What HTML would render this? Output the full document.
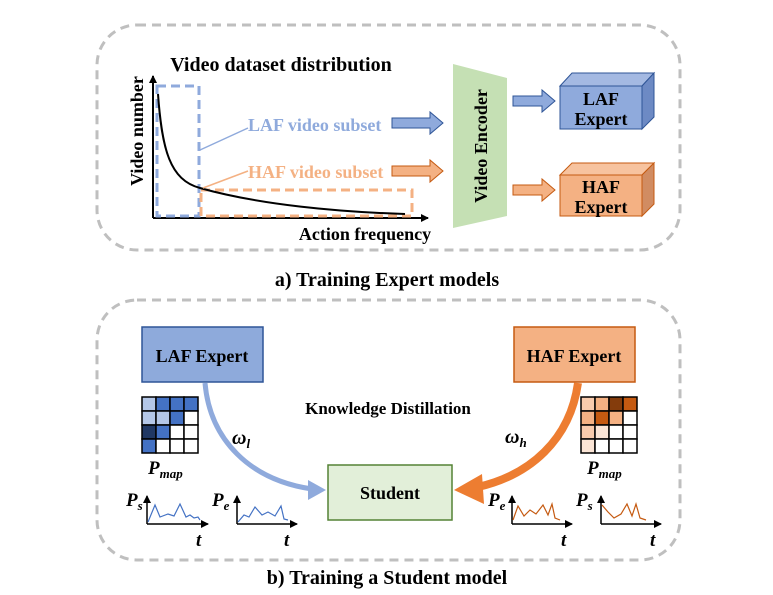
<!DOCTYPE html>
<html><head><meta charset="utf-8"><style>
body{margin:0;background:#fff}
svg{display:block;font-family:"Liberation Serif",serif;font-weight:bold}
</style></head><body>
<svg width="773" height="595" viewBox="0 0 773 595" xmlns="http://www.w3.org/2000/svg">
<defs>
<marker id="ah" markerWidth="8" markerHeight="8" refX="7" refY="4" orient="auto" markerUnits="userSpaceOnUse"><path d="M0,0 L8,4 L0,8 z" fill="#000"/></marker>
</defs>
<rect x="97" y="25" width="583" height="225" rx="40" fill="none" stroke="#bfbfbf" stroke-width="3" stroke-dasharray="9,6"/>
<rect x="97" y="300" width="583" height="260" rx="40" fill="none" stroke="#bfbfbf" stroke-width="3" stroke-dasharray="9,6"/>
<text x="387" y="286" font-size="20" text-anchor="middle">a) Training Expert models</text>
<text x="387" y="584" font-size="20" text-anchor="middle">b) Training a Student model</text>

<text x="281" y="71" font-size="20" text-anchor="middle">Video dataset distribution</text>
<text transform="translate(143,131) rotate(-90)" font-size="18" text-anchor="middle">Video number</text>
<text x="365" y="240" font-size="18" text-anchor="middle">Action frequency</text>
<line x1="153" y1="218" x2="153" y2="76" stroke="#000" stroke-width="2" marker-end="url(#ah)"/>
<line x1="153" y1="218" x2="428" y2="218" stroke="#000" stroke-width="2" marker-end="url(#ah)"/>
<rect x="157" y="86" width="42" height="130" fill="none" stroke="#8faadc" stroke-width="3" stroke-dasharray="9,5"/>
<rect x="201" y="190" width="211" height="26" fill="none" stroke="#f4b183" stroke-width="3" stroke-dasharray="9,5"/>
<path d="M158,94 C162,150 170,180 200,188 C260,205 340,212 405,214" fill="none" stroke="#000" stroke-width="2"/>
<line x1="200" y1="150" x2="248" y2="128" stroke="#8faadc" stroke-width="1.5"/>
<line x1="203" y1="188" x2="248" y2="171" stroke="#f4b183" stroke-width="1.5"/>
<text x="248" y="131" font-size="18" fill="#8faadc">LAF video subset</text>
<text x="248" y="178" font-size="18" fill="#f4b183">HAF video subset</text>
<path d="M392,118 h38 v-6 l13,11 l-13,11 v-6 h-38 z" fill="#8faadc" stroke="#2f5597" stroke-width="1"/>
<path d="M392,166 h38 v-6 l13,11 l-13,11 v-6 h-38 z" fill="#f4b183" stroke="#c55a11" stroke-width="1"/>

<polygon points="453,64 507,78 507,216 453,228" fill="#c5e0b4"/>
<text transform="translate(487,146) rotate(-90)" font-size="18" text-anchor="middle">Video Encoder</text>
<path d="M513,96 h29 v-6 l13,11 l-13,11 v-6 h-29 z" fill="#8faadc" stroke="#2f5597" stroke-width="1"/>
<path d="M513,185 h29 v-6 l13,11 l-13,11 v-6 h-29 z" fill="#f4b183" stroke="#c55a11" stroke-width="1"/>

<polygon points="560,86 572,73 654,73 642,86" fill="#a4b9e2" stroke="#2f5597"/>
<polygon points="642,86 654,73 654,117 642,129" fill="#6d8ac4" stroke="#2f5597"/>
<rect x="560" y="86" width="82" height="43" fill="#8faadc" stroke="#2f5597"/>
<text x="601" y="105" font-size="18" text-anchor="middle">LAF</text>
<text x="601" y="125" font-size="18" text-anchor="middle">Expert</text>
<polygon points="560,175 572,163 654,163 642,175" fill="#f7c39f" stroke="#c55a11"/>
<polygon points="642,175 654,163 654,204 642,216" fill="#d18c62" stroke="#c55a11"/>
<rect x="560" y="175" width="82" height="41" fill="#f4b183" stroke="#c55a11"/>
<text x="601" y="193" font-size="18" text-anchor="middle">HAF</text>
<text x="601" y="213" font-size="18" text-anchor="middle">Expert</text>

<rect x="142" y="327" width="121" height="55" fill="#8eaadb" stroke="#2f5597" stroke-width="1.5"/>
<text x="202" y="362" font-size="18" text-anchor="middle">LAF Expert</text>
<rect x="514" y="327" width="121" height="55" fill="#f4b183" stroke="#c55a11" stroke-width="1.5"/>
<text x="574" y="362" font-size="18" text-anchor="middle">HAF Expert</text>
<rect x="328" y="465" width="124" height="55" fill="#e2efd9" stroke="#548235" stroke-width="1.5"/>
<text x="390" y="499" font-size="18" text-anchor="middle">Student</text>
<text x="388" y="414" font-size="17" text-anchor="middle">Knowledge Distillation</text>

<path d="M205,383 C210,440 250,480 312,489" fill="none" stroke="#8faadc" stroke-width="5"/>
<polygon points="326,490 308,480 308,500" fill="#8faadc"/>
<path d="M578,383 C570,440 530,475 478,487" fill="none" stroke="#ed7d31" stroke-width="8"/>
<polygon points="454,490 482,474 484,504" fill="#ed7d31"/>
<text x="232" y="444" font-size="20" font-style="italic">ω<tspan font-size="13" dy="4">l</tspan></text>
<text x="505" y="443" font-size="20" font-style="italic">ω<tspan font-size="13" dy="4">h</tspan></text>

<g stroke="#000" stroke-width="1.5">
<rect x="142" y="397" width="14" height="14" fill="#b4c7e7"/><rect x="156" y="397" width="14" height="14" fill="#4472c4"/><rect x="170" y="397" width="14" height="14" fill="#4472c4"/><rect x="184" y="397" width="14" height="14" fill="#4472c4"/>
<rect x="142" y="411" width="14" height="14" fill="#b4c7e7"/><rect x="156" y="411" width="14" height="14" fill="#b4c7e7"/><rect x="170" y="411" width="14" height="14" fill="#4472c4"/><rect x="184" y="411" width="14" height="14" fill="#fff"/>
<rect x="142" y="425" width="14" height="14" fill="#203864"/><rect x="156" y="425" width="14" height="14" fill="#4472c4"/><rect x="170" y="425" width="14" height="14" fill="#fff"/><rect x="184" y="425" width="14" height="14" fill="#fff"/>
<rect x="142" y="439" width="14" height="14" fill="#4472c4"/><rect x="156" y="439" width="14" height="14" fill="#fff"/><rect x="170" y="439" width="14" height="14" fill="#fff"/><rect x="184" y="439" width="14" height="14" fill="#fff"/>
<rect x="581" y="397" width="14" height="14" fill="#f8cbad"/><rect x="595" y="397" width="14" height="14" fill="#f4b183"/><rect x="609" y="397" width="14" height="14" fill="#843c0c"/><rect x="623" y="397" width="14" height="14" fill="#c55a11"/>
<rect x="581" y="411" width="14" height="14" fill="#f4b183"/><rect x="595" y="411" width="14" height="14" fill="#c55a11"/><rect x="609" y="411" width="14" height="14" fill="#f4b183"/><rect x="623" y="411" width="14" height="14" fill="#fff"/>
<rect x="581" y="425" width="14" height="14" fill="#f8cbad"/><rect x="595" y="425" width="14" height="14" fill="#fbe5d6"/><rect x="609" y="425" width="14" height="14" fill="#fff"/><rect x="623" y="425" width="14" height="14" fill="#fff"/>
<rect x="581" y="439" width="14" height="14" fill="#fbe5d6"/><rect x="595" y="439" width="14" height="14" fill="#fff"/><rect x="609" y="439" width="14" height="14" fill="#fff"/><rect x="623" y="439" width="14" height="14" fill="#fff"/>
</g>
<text x="148" y="474" font-size="19" font-style="italic">P<tspan font-size="13" dy="4">map</tspan></text>
<text x="587" y="474" font-size="19" font-style="italic">P<tspan font-size="13" dy="4">map</tspan></text>

<g stroke="#000" stroke-width="1.5" fill="none">
<line x1="147" y1="524" x2="147" y2="496" marker-end="url(#ah)"/><line x1="147" y1="524" x2="208" y2="524" marker-end="url(#ah)"/>
<line x1="237" y1="524" x2="237" y2="496" marker-end="url(#ah)"/><line x1="237" y1="524" x2="297" y2="524" marker-end="url(#ah)"/>
<line x1="512" y1="524" x2="512" y2="496" marker-end="url(#ah)"/><line x1="512" y1="524" x2="572" y2="524" marker-end="url(#ah)"/>
<line x1="601" y1="524" x2="601" y2="496" marker-end="url(#ah)"/><line x1="601" y1="524" x2="661" y2="524" marker-end="url(#ah)"/>
</g>
<polyline points="148,522 155,505 160,517 168,514 174,516 180,504 186,517 190,515 194,518 198,517 200,520" fill="none" stroke="#4472c4" stroke-width="1.2"/>
<polyline points="238,522 244,515 249,517 255,507 262,515 268,512 275,516 281,506 284,519 288,520" fill="none" stroke="#4472c4" stroke-width="1.2"/>
<polyline points="513,520 518,506 524,516 530,510 536,514 543,505 548,515 552,504 555,518 560,520" fill="none" stroke="#c55a11" stroke-width="1.2"/>
<polyline points="602,505 608,512 614,518 621,514 627,504 632,516 636,504 640,518 646,520" fill="none" stroke="#c55a11" stroke-width="1.2"/>
<g font-size="19" font-style="italic">
<text x="126" y="506">P<tspan font-size="13" dy="4">s</tspan></text>
<text x="212" y="506">P<tspan font-size="13" dy="4">e</tspan></text>
<text x="488" y="506">P<tspan font-size="13" dy="4">e</tspan></text>
<text x="576" y="506">P<tspan font-size="13" dy="4">s</tspan></text>
<text x="196" y="546">t</text><text x="284" y="546">t</text>
<text x="561" y="546">t</text><text x="650" y="546">t</text>
</g>
</svg>
</body></html>
